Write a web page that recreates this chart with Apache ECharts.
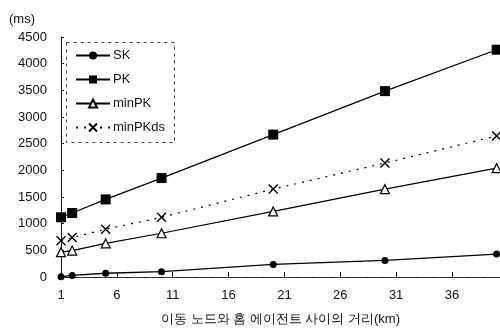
<!DOCTYPE html>
<html>
<head>
<meta charset="utf-8">
<script src="https://cdn.jsdelivr.net/npm/echarts@6/dist/echarts.min.js"></script>
<style>
  html, body { margin: 0; padding: 0; background: #fff; }
  #content { width: 500px; height: 331px; }
</style>
</head>
<body>
<div id="content"></div>
<script>
// 거리 (km)
var distances = [1, 2, 5, 10, 20, 30, 40];
// 처리 시간 (ms)
var skValues = [5, 30, 70, 100, 235, 310, 430];
var pkValues = [1120, 1200, 1455, 1855, 2670, 3485, 4262];
var minPkValues = [465, 495, 630, 820, 1230, 1648, 2040];
var minPkdsValues = [680, 740, 895, 1120, 1648, 2137, 2645];
var seriesNames = ["SK", "PK", "minPK", "minPKds"];

var myChart = echarts.init(document.getElementById("content"));

// x, y 쌍으로 묶기
function toPairs(values) {
    var out = [];
    for (var i = 0; i < values.length; i++) {
        out.push([distances[i], values[i]]);
    }
    return out;
}

var font = "Arial, 'Liberation Sans', sans-serif";
var crossPath = "path://M0,0L10,10M10,0L0,10";

myChart.setOption({
    animation: false,
    title: {
        text: "(ms)",
        left: 4,
        top: 8,
        textStyle: { fontSize: 13, fontWeight: "normal", color: "#111", fontFamily: font }
    },
    grid: { left: 61, top: 37, right: 0, bottom: 49 },
    legend: {
        orient: "vertical",
        left: 70,
        top: 44,
        itemGap: 11,
        itemWidth: 34,
        itemHeight: 10,
        textStyle: { fontSize: 13, color: "#111", fontFamily: font, padding: [0, 0, 0, -2] },
        data: seriesNames
    },
    graphic: [{
        type: "rect",
        left: 64,
        top: 40,
        shape: { width: 108, height: 100 },
        style: { fill: "none", stroke: "#444", lineWidth: 1, lineDash: [3, 4] }
    }],
    xAxis: [{
        type: "value",
        min: 1,
        max: 40.3,
        interval: 5,
        name: "이동 노드와 홈 에이전트 사이의 거리(km)",
        nameLocation: "middle",
        nameGap: 36,
        nameTextStyle: { fontSize: 13, color: "#111", fontFamily: font },
        axisLine: { onZero: false, lineStyle: { color: "#111", width: 1 } },
        axisTick: { inside: true, length: 5, lineStyle: { color: "#111" } },
        axisLabel: { fontSize: 13, color: "#111", margin: 12, fontFamily: font, showMaxLabel: false },
        splitLine: { show: false }
    }, {
        type: "value",
        position: "top",
        min: 1,
        max: 40.3,
        axisLine: { show: true, lineStyle: { color: "#333", width: 1, type: [14, 3] } },
        axisTick: { show: false },
        axisLabel: { show: false },
        splitLine: { show: false }
    }],
    yAxis: {
        type: "value",
        min: 0,
        max: 4500,
        interval: 500,
        axisLine: { show: true, lineStyle: { color: "#111", width: 1 } },
        axisTick: { show: true, inside: true, length: 3, lineStyle: { color: "#111" } },
        axisLabel: {
            fontSize: 13,
            color: "#111",
            margin: 14,
            fontFamily: font,
            formatter: function(v) { return String(v); }
        },
        splitLine: { show: false }
    },
    series: [{
        name: "SK",
        type: "line",
        data: toPairs(skValues),
        symbol: "circle",
        symbolSize: 7,
        itemStyle: { color: "#000" },
        lineStyle: { color: "#000", width: 1.3 }
    }, {
        name: "PK",
        type: "line",
        data: toPairs(pkValues),
        symbol: "rect",
        symbolSize: 10,
        itemStyle: { color: "#000" },
        lineStyle: { color: "#000", width: 1.2 }
    }, {
        name: "minPK",
        type: "line",
        data: toPairs(minPkValues),
        symbol: "triangle",
        symbolSize: 9,
        itemStyle: { color: "#fff", borderColor: "#000", borderWidth: 1.2 },
        lineStyle: { color: "#000", width: 1.2 }
    }, {
        name: "minPKds",
        type: "line",
        data: toPairs(minPkdsValues),
        symbol: crossPath,
        symbolSize: 9,
        itemStyle: { color: "#000", borderColor: "#000", borderWidth: 1.4 },
        lineStyle: { color: "#000", width: 1.2, type: [2, 6] }
    }]
});
</script>
</body>
</html>
